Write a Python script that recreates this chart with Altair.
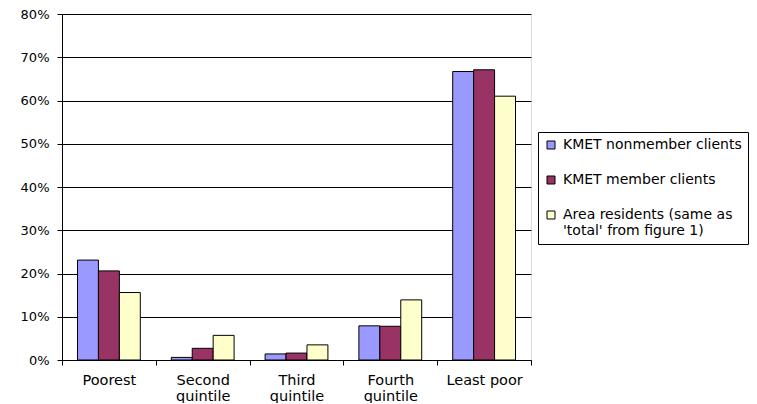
import altair as alt
import pandas as pd

categories = ["Poorest", "Second quintile", "Third quintile", "Fourth quintile", "Least poor"]
series = [
    "KMET nonmember clients",
    "KMET member clients",
    "Area residents (same as\n'total' from figure 1)",
]
nonmember = [23.1, 0.6, 1.4, 7.9, 66.7]
member = [20.6, 2.7, 1.6, 7.8, 67.1]
residents = [15.6, 5.7, 3.5, 13.9, 61.0]
colors = ["#9999FF", "#993366", "#FFFFCC"]
y_ticks = [0, 10, 20, 30, 40, 50, 60, 70, 80]

rows = []
for s, vals in zip(series, [nonmember, member, residents]):
    for c, v in zip(categories, vals):
        rows.append({"category": c, "series": s, "value": v})
df = pd.DataFrame(rows)

font = "DejaVu Sans"

chart = (
    alt.Chart(df)
    .mark_bar(stroke="black", strokeWidth=1)
    .encode(
        x=alt.X(
            "category:N",
            sort=categories,
            scale=alt.Scale(paddingInner=0, paddingOuter=0),
            axis=alt.Axis(
                title=None,
                labelAngle=0,
                tickBand="extent",
                labelExpr="datum.label == 'Least poor' ? datum.label : split(datum.label, ' ')",
                labelFont=font,
                labelFontSize=14.5,
                labelColor="black",
                labelBaseline="top",
                labelPadding=8,
                labelLineHeight=16.5,
                tickSize=5,
                tickColor="black",
                domainColor="black",
                grid=False,
            ),
        ),
        xOffset=alt.XOffset(
            "series:N",
            sort=series,
            scale=alt.Scale(paddingOuter=0.74, paddingInner=0),
        ),
        y=alt.Y(
            "value:Q",
            scale=alt.Scale(domain=[0, 80], nice=False),
            axis=alt.Axis(
                title=None,
                values=y_ticks,
                labelExpr="datum.value + '%'",
                labelFont=font,
                labelFontSize=13,
                labelColor="black",
                labelPadding=8,
                tickSize=5,
                tickColor="black",
                domainColor="black",
                grid=True,
                gridColor="black",
                gridOpacity=1,
            ),
        ),
        color=alt.Color(
            "series:N",
            sort=series,
            scale=alt.Scale(domain=series, range=colors),
            legend=alt.Legend(
                title=None,
                orient="none",
                legendX=476,
                legendY=118,
                strokeColor="black",
                fillColor="white",
                padding=6,
                symbolType="square",
                symbolSize=64,
                symbolStrokeColor="black",
                symbolStrokeWidth=1,
                symbolOpacity=1,
                labelFont=font,
                labelFontSize=14,
                labelColor="black",
                labelOffset=5,
                labelLimit=400,
                labelExpr="split(datum.label, '\\n')",
                rowPadding=21,
            ),
        ),
    )
    .properties(width=469, height=346, padding={"left": 12, "top": 0, "right": 0, "bottom": 0})
    .configure_view(fill="#C0C0C0", stroke="#808080", strokeWidth=1)
    .configure(background="white")
)

chart.save("out.html", embed_options={"renderer": "svg", "actions": False})
